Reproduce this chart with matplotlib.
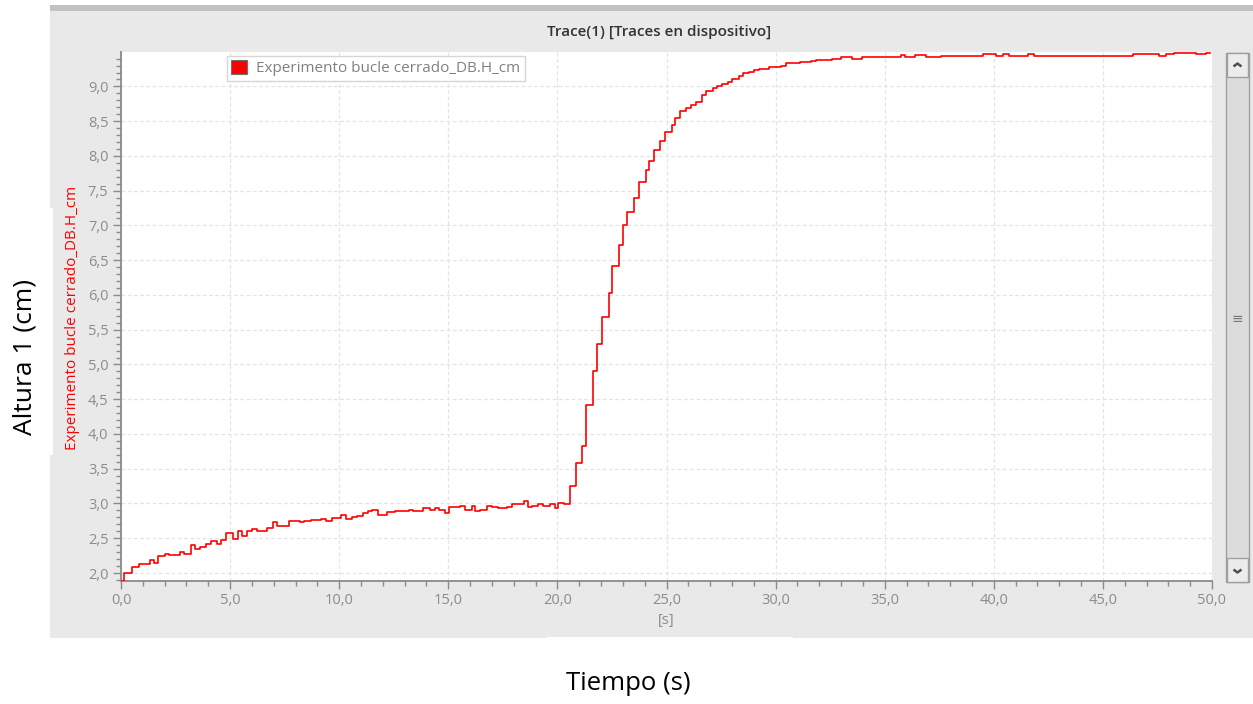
import numpy as np
import matplotlib.pyplot as plt
from matplotlib.patches import Rectangle, Patch
from matplotlib.lines import Line2D
from matplotlib.ticker import MultipleLocator, FuncFormatter

plt.rcParams['font.family'] = ['Open Sans', 'DejaVu Sans']

# step start times (s) and held level (cm)
t_start = [0.00, 0.12, 0.49, 0.81, 1.33, 1.51, 1.71, 2.00, 2.18, 2.70,
           2.90, 3.20, 3.40, 3.61, 3.89, 4.12, 4.38, 4.59, 4.80, 5.14,
           5.34, 5.56, 5.76, 5.99, 6.25, 6.71, 6.98, 7.16, 7.70, 8.19,
           8.37, 8.69, 9.15, 9.41, 9.68, 10.06, 10.29, 10.59, 10.82, 11.08,
           11.31, 11.51, 11.78, 12.20, 12.58, 13.19, 13.37, 13.83, 14.18, 14.38,
           14.59, 14.86, 15.05, 15.55, 15.78, 16.08, 16.23, 16.46, 16.77, 17.00,
           17.30, 17.68, 17.94, 18.49, 18.64, 18.83, 19.13, 19.36, 19.66, 19.89,
           20.05, 20.32,
           20.59, 20.84, 21.14, 21.33, 21.62, 21.81, 22.04, 22.35, 22.52, 22.82,
           23.00, 23.19, 23.51, 23.72, 24.04, 24.19, 24.41, 24.68, 24.94, 25.23,
           25.40, 25.61, 25.90, 26.13, 26.33, 26.62, 26.81, 27.12, 27.32, 27.53,
           27.84, 28.02, 28.31, 28.51, 28.77, 29.02, 29.22, 29.70, 30.26, 30.46,
           31.10, 31.63, 31.83, 32.59, 33.00, 33.51, 33.96, 35.75, 35.93, 36.40,
           36.89, 37.58, 39.51, 40.12, 40.40, 40.70, 41.55, 41.86, 46.37, 47.56,
           47.90, 48.25, 49.27, 49.73]
h_cm = [1.89, 2.00, 2.08, 2.135, 2.19, 2.15, 2.245, 2.28, 2.26, 2.30,
        2.28, 2.40, 2.35, 2.38, 2.42, 2.46, 2.42, 2.48, 2.57, 2.49,
        2.60, 2.53, 2.61, 2.63, 2.61, 2.65, 2.73, 2.68, 2.75, 2.73,
        2.75, 2.765, 2.775, 2.755, 2.785, 2.83, 2.775, 2.80, 2.82, 2.87,
        2.89, 2.90, 2.84, 2.88, 2.895, 2.91, 2.895, 2.93, 2.91, 2.93,
        2.91, 2.86, 2.95, 2.97, 2.91, 2.97, 2.895, 2.91, 2.97, 2.95,
        2.93, 2.95, 2.995, 3.03, 2.95, 2.97, 2.99, 2.97, 2.99, 2.93,
        3.01, 2.99,
        3.25, 3.58, 3.83, 4.42, 4.90, 5.29, 5.68, 6.03, 6.41, 6.72,
        7.00, 7.19, 7.40, 7.63, 7.80, 7.93, 8.09, 8.22, 8.35, 8.45,
        8.54, 8.64, 8.69, 8.73, 8.78, 8.87, 8.94, 8.98, 9.00, 9.03,
        9.06, 9.11, 9.15, 9.19, 9.21, 9.23, 9.25, 9.28, 9.29, 9.33,
        9.35, 9.365, 9.385, 9.40, 9.42, 9.40, 9.43, 9.45, 9.42, 9.45,
        9.42, 9.44, 9.46, 9.44, 9.46, 9.44, 9.46, 9.44, 9.46, 9.44,
        9.46, 9.48, 9.46, 9.48]
t_end = 49.9

series_name = "Experimento bucle cerrado_DB.H_cm"
title = "Trace(1) [Traces en dispositivo]"

W, H = 1253, 704
fig = plt.figure(figsize=(W / 100, H / 100), dpi=100)
fig.patch.set_facecolor('white')


def fx(px):
    return px / W


def fy(py):
    return 1 - py / H


def panel(x0, y0, x1, y1, **kw):
    # rectangle given in pixel coords of the picture (y down)
    r = Rectangle((fx(x0), fy(y1)), fx(x1 - x0), (y1 - y0) / H,
                  transform=fig.transFigure, **kw)
    fig.patches.append(r)
    return r


def chevron(xc, yc, up):
    d = -3 if up else 3
    fig.lines.append(Line2D([fx(xc - 4), fx(xc), fx(xc + 4)],
                            [fy(yc - d / 2), fy(yc + d / 2), fy(yc - d / 2)],
                            transform=fig.transFigure, color='#505050', lw=1.8,
                            solid_capstyle='butt', zorder=3))


# grey window panel behind the trace
panel(50, 7, W, 638, fc='#e9e9e9', ec='none', zorder=-3)
panel(50, 5, W, 11, fc='#c2c2c2', ec='none', zorder=-2)
panel(50, 208, 53, 455, fc='white', ec='none', zorder=-2)
panel(547, 637, 793, 641, fc='white', ec='none', zorder=-2)

# scrollbar on the right
panel(1226, 53, 1249, 582, fc='#dcdcdc', ec='#a0a0a0', lw=1, zorder=1)
for y0, y1 in [(53, 77), (558, 582)]:
    panel(1227, y0, 1248, y1, fc='#ececec', ec='#a0a0a0', lw=1, zorder=2)
chevron(1237.5, 65, True)
chevron(1237.5, 571, False)
fig.text(fx(1237.5), fy(320), '≡', ha='center', va='center', fontsize=10,
         color='#777777', zorder=3)

ax = fig.add_axes([fx(121), fy(581), fx(1212 - 121), (581 - 52) / H])
ax.set_zorder(5)
ax.set_facecolor('white')

t = list(t_start) + [t_end]
h = list(h_cm) + [h_cm[-1]]
ax.step(t, h, where='post', color='#ff0000', lw=1.2, zorder=3)

ax.set_xlim(0, 50)
ax.set_ylim(1.885, 9.495)

grey = '#8a8a8a'
comma = FuncFormatter(lambda v, p: f"{v:.1f}".replace('.', ','))
ax.xaxis.set_major_locator(MultipleLocator(5))
ax.xaxis.set_minor_locator(MultipleLocator(1))
ax.yaxis.set_major_locator(MultipleLocator(0.5))
ax.yaxis.set_minor_locator(MultipleLocator(0.1))
ax.xaxis.set_major_formatter(comma)
ax.yaxis.set_major_formatter(comma)
ax.tick_params(which='major', length=6, width=1, color=grey, labelcolor='#8c8c8c',
               labelsize=10.5, pad=3)
ax.tick_params(which='minor', length=3.5, width=1, color=grey)

for s in ['top', 'right']:
    ax.spines[s].set_visible(False)
for s in ['left', 'bottom']:
    ax.spines[s].set_color(grey)
    ax.spines[s].set_linewidth(1.3)

ax.grid(True, which='major', color='#e4e4e4', lw=0.9, ls=(0, (3, 2)))
ax.set_axisbelow(True)

ax.set_xlabel('[s]', color='#8c8c8c', fontsize=10.5, labelpad=3)

leg = ax.legend(handles=[Patch(fc='#ff0000', ec='#707070', lw=0.8, label=series_name)],
                loc='upper left', bbox_to_anchor=(0.097, 0.993), fontsize=11,
                handlelength=1.0, handleheight=1.0, handletextpad=0.6,
                borderpad=0.3, borderaxespad=0, fancybox=False, framealpha=1)
leg.get_frame().set_edgecolor('#d6d6d6')
leg.get_frame().set_linewidth(1)
for txt in leg.get_texts():
    txt.set_color('#808080')

fig.text(fx(659), fy(32), title, ha='center', va='center', fontsize=11,
         color='#333333', fontweight='semibold')
fig.text(fx(73), fy(318), series_name, ha='center', va='center', rotation=90,
         fontsize=11, color='#ff0000')

fig.text(fx(25), fy(357), 'Altura 1 (cm)', ha='center', va='center', rotation=90,
         fontsize=19, color='black')
fig.text(fx(628), fy(683), 'Tiempo (s)', ha='center', va='center',
         fontsize=18.5, color='black')

fig.savefig('out.png', dpi=100, facecolor='white')
